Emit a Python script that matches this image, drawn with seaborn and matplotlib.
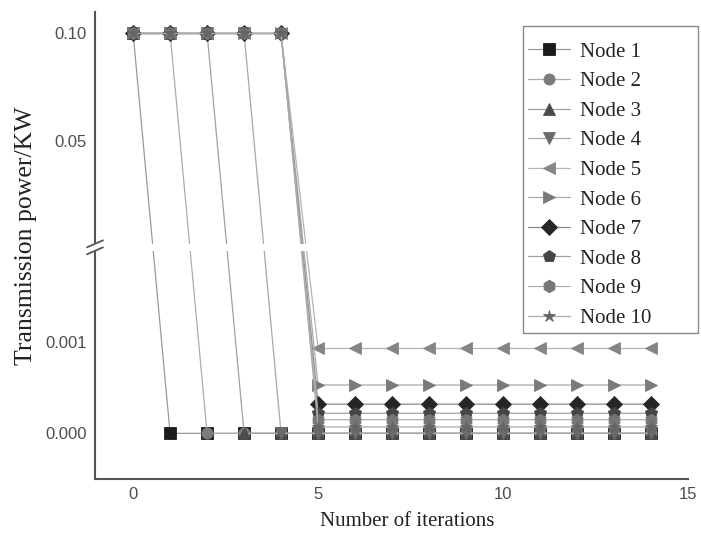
import numpy as np
import pandas as pd
import matplotlib
matplotlib.use("Agg")
import matplotlib.pyplot as plt
import seaborn as sns

# ---------------- data ----------------
iterations = [0, 1, 2, 3, 4, 5, 6, 7, 8, 9, 10, 11, 12, 13, 14]
node_names = ["Node 1", "Node 2", "Node 3", "Node 4", "Node 5",
              "Node 6", "Node 7", "Node 8", "Node 9", "Node 10"]
node_1 = [0.10, 0.0, 0.0, 0.0, 0.0, 0.0, 0.0, 0.0, 0.0, 0.0, 0.0, 0.0, 0.0, 0.0, 0.0]
node_2 = [0.10, 0.10, 0.0, 0.0, 0.0, 0.0, 0.0, 0.0, 0.0, 0.0, 0.0, 0.0, 0.0, 0.0, 0.0]
node_3 = [0.10, 0.10, 0.10, 0.0, 0.0, 0.0, 0.0, 0.0, 0.0, 0.0, 0.0, 0.0, 0.0, 0.0, 0.0]
node_4 = [0.10, 0.10, 0.10, 0.10, 0.0, 0.0, 0.0, 0.0, 0.0, 0.0, 0.0, 0.0, 0.0, 0.0, 0.0]
node_5 = [0.10, 0.10, 0.10, 0.10, 0.10, 0.00093, 0.00093, 0.00093, 0.00093, 0.00093,
          0.00093, 0.00093, 0.00093, 0.00093, 0.00093]
node_6 = [0.10, 0.10, 0.10, 0.10, 0.10, 0.00053, 0.00053, 0.00053, 0.00053, 0.00053,
          0.00053, 0.00053, 0.00053, 0.00053, 0.00053]
node_7 = [0.10, 0.10, 0.10, 0.10, 0.10, 0.00032, 0.00032, 0.00032, 0.00032, 0.00032,
          0.00032, 0.00032, 0.00032, 0.00032, 0.00032]
node_8 = [0.10, 0.10, 0.10, 0.10, 0.10, 0.00022, 0.00022, 0.00022, 0.00022, 0.00022,
          0.00022, 0.00022, 0.00022, 0.00022, 0.00022]
node_9 = [0.10, 0.10, 0.10, 0.10, 0.10, 0.00015, 0.00015, 0.00015, 0.00015, 0.00015,
          0.00015, 0.00015, 0.00015, 0.00015, 0.00015]
node_10 = [0.10, 0.10, 0.10, 0.10, 0.10, 0.00007, 0.00007, 0.00007, 0.00007, 0.00007,
           0.00007, 0.00007, 0.00007, 0.00007, 0.00007]
node_values = [node_1, node_2, node_3, node_4, node_5,
               node_6, node_7, node_8, node_9, node_10]

y_major_ticks = [0.0, 0.001, 0.05, 0.10]
y_major_labels = ["0.000", "0.001", "0.05", "0.10"]
y_minor_ticks = [0.0005, 0.0015, 0.025, 0.075]
x_major_ticks = [0, 5, 10, 15]
x_minor_ticks = [2.5, 7.5, 12.5]

# ---------------- styles ----------------
markers = ["s", "o", "^", "v", "<", ">", "D", "p", "h", "*"]
marker_colors = ["#1c1c1c", "#7b7b7b", "#4b4b4b", "#6a6a6a", "#858585",
                 "#7a7a7a", "#262626", "#454545", "#767676", "#656565"]
line_colors = ["#9a9a9a", "#ababab", "#a0a0a0", "#a8a8a8", "#b4b4b4",
               "#a9a9a9", "#8a8a8a", "#a2a2a2", "#b0b0b0", "#ababab"]

frames = []
for name, vals in zip(node_names, node_values):
    frames.append(pd.DataFrame({"iteration": iterations, "power": vals, "node": name}))
df = pd.concat(frames, ignore_index=True)

sns.set_style("white")
plt.rcParams["font.family"] = ["Liberation Sans", "DejaVu Sans"]

W, H = 701, 543
fig = plt.figure(figsize=(W / 100, H / 100), dpi=100)
fig.patch.set_facecolor("white")
ax = fig.add_axes([95 / W, 1 - 479 / H, (688 - 95) / W, (479 - 12) / H])

# broken y axis as a piecewise-linear scale
B = 0.002
K_LOW = 91000.0
K_HIGH = 2140.0
GAP = 7.0


def fwd(y):
    y = np.asarray(y, dtype=float)
    return np.where(y < B, y * K_LOW, B * K_LOW + GAP + (y - B) * K_HIGH)


def inv(u):
    u = np.asarray(u, dtype=float)
    lo = B * K_LOW
    return np.where(u < lo, u / K_LOW,
                    np.where(u < lo + GAP, B, B + (u - lo - GAP) / K_HIGH))


ax.set_yscale("function", functions=(fwd, inv))

for i, name in enumerate(node_names):
    sub = df[df["node"] == name]
    sns.lineplot(data=sub, x="iteration", y="power", ax=ax,
                 color=line_colors[i], linewidth=0.9,
                 marker=markers[i], markersize=9 if markers[i] in ("*", "p", "h") else 8,
                 markerfacecolor=marker_colors[i], markeredgecolor=marker_colors[i],
                 markeredgewidth=0.6, label=name, sort=False)

Y_LO, Y_HI = -0.0005, 0.11
ax.set_xlim(-1.03, 15.0)
ax.set_ylim(Y_LO, Y_HI)

ax.set_yticks(y_major_ticks)
ax.set_yticklabels(y_major_labels)
ax.set_yticks(y_minor_ticks, minor=True)
ax.set_xticks(x_major_ticks)
ax.set_xticklabels([str(t) for t in x_major_ticks])
ax.set_xticks(x_minor_ticks, minor=True)

for s in ("top", "right"):
    ax.spines[s].set_visible(False)
for s in ("left", "bottom"):
    ax.spines[s].set_color("#555555")
    ax.spines[s].set_linewidth(1.5)

ax.tick_params(axis="both", which="major", direction="in", length=7, width=1.3,
               color="#555555", labelcolor="#4d4d4d", labelsize=12, pad=6)
ax.tick_params(axis="both", which="minor", direction="in", length=4.5, width=1.2,
               color="#555555")

# axis labels
ax.set_xlabel("Number of iterations", fontfamily="Liberation Serif", fontsize=15,
              color="#222222")
ax.xaxis.set_label_coords((407 - 95) / 593, (479 - 521) / 467)
ax.xaxis.label.set_va("center")
ax.set_ylabel("Transmission power/KW", fontfamily="Liberation Serif", fontsize=18.5,
              color="#222222")
ax.yaxis.set_label_coords((26 - 95) / 593, (479 - 236) / 467)
ax.yaxis.label.set_va("center")

# break gap and marks
u_lo, u_hi = fwd(Y_LO), fwd(Y_HI)
f1 = float((B * K_LOW - u_lo) / (u_hi - u_lo))
f2 = float((B * K_LOW + GAP - u_lo) / (u_hi - u_lo))
ax.add_patch(plt.Rectangle((-0.03, f1), 1.03, f2 - f1, transform=ax.transAxes,
                           facecolor="white", edgecolor="none", zorder=2.6,
                           clip_on=False))
dx, dy = 0.0135, 0.0075
for f in (f1, f2):
    ax.plot([-dx, dx], [f - dy, f + dy], transform=ax.transAxes, color="#555555",
            linewidth=1.3, clip_on=False, zorder=3)

# legend (frameless) plus a separate wide frame like the original
ax.add_patch(plt.Rectangle((523 / W, 1 - 333 / H), (698 - 523) / W, (333 - 26) / H,
                           transform=fig.transFigure, facecolor="white",
                           edgecolor="#8a8a8a", linewidth=1.0, zorder=4,
                           clip_on=False))
leg = ax.legend(loc="center left", bbox_to_anchor=(528 / W, 1 - 185 / H),
                bbox_transform=fig.transFigure,
                prop={"family": "Liberation Serif", "size": 15},
                frameon=False, handlelength=2.0, handletextpad=0.48,
                labelspacing=0.48, borderpad=0.0, borderaxespad=0)
leg.set_zorder(5)
for t in leg.get_texts():
    t.set_color("#222222")

fig.savefig("out.png", dpi=100, facecolor="white")
